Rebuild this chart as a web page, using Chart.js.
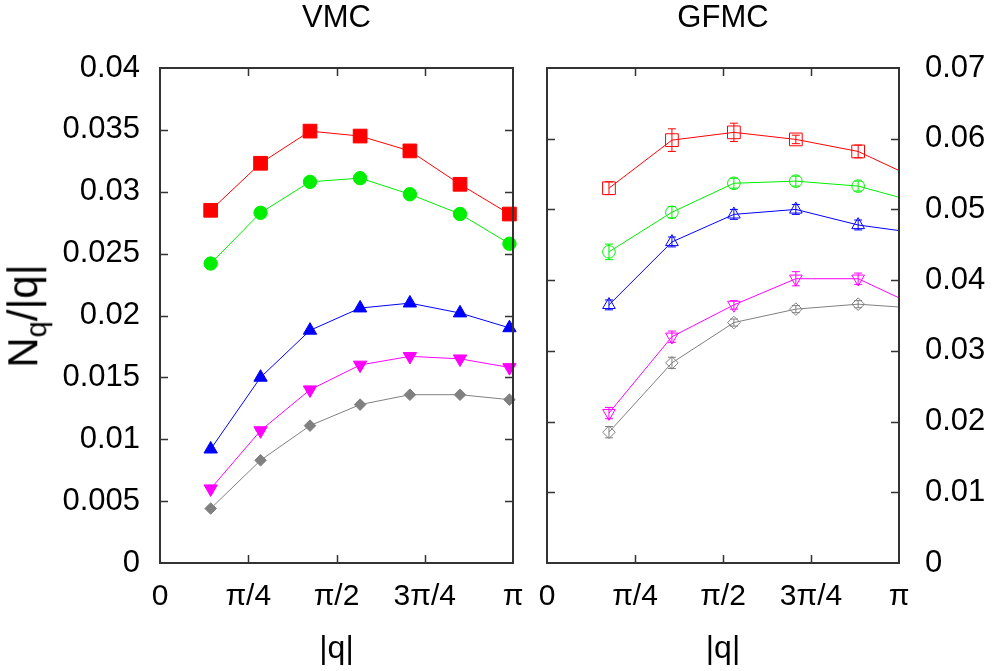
<!DOCTYPE html>
<html>
<head>
<meta charset="utf-8">
<script src="https://cdn.jsdelivr.net/npm/chart.js@4.4.1/dist/chart.umd.min.js"></script>
<style>
  body { margin: 0; background: #fff; }
  #wrap { position: relative; width: 995px; height: 671px; font-family: "Liberation Sans", Arial, sans-serif; }
  #vmc { position: absolute; left: 0; top: 0; }
  #gfmc { position: absolute; left: 530px; top: 0; }
  #ylab { position: absolute; left: 27px; top: 316px; transform: translate(-50%, -50%) rotate(-90deg);
          font-size: 42px; line-height: 1; white-space: nowrap; color: #000; }
  #ylab sub { font-size: 29px; }
</style>
</head>
<body>
<div id="wrap">
  <canvas id="vmc" width="530" height="671"></canvas>
  <canvas id="gfmc" width="465" height="671"></canvas>
  <div id="ylab">N<sub>q</sub>/|q|</div>
</div>
<script>
// |q| positions (radians) and N_q/|q| values
const qVmc = [0.451, 0.895, 1.335, 1.781, 2.224, 2.670, 3.110];
const vmcRed     = [0.0285, 0.0323, 0.0349, 0.0345, 0.0333, 0.0306, 0.0282];
const vmcGreen   = [0.0242, 0.0283, 0.0308, 0.0311, 0.0298, 0.0282, 0.0258];
const vmcBlue    = [0.0092, 0.0150, 0.0188, 0.0206, 0.0210, 0.0202, 0.0190];
const vmcMagenta = [0.0060, 0.0107, 0.0140, 0.0160, 0.0167, 0.0165, 0.0158];
const vmcGray    = [0.0044, 0.0083, 0.0111, 0.0128, 0.0136, 0.0136, 0.0132];

const qGfmc = [0.553, 1.115, 1.668, 2.221, 2.777, 3.330];
const gfmcRed     = [0.0530, 0.0598, 0.0609, 0.0599, 0.0582, 0.0541];
const gfmcGreen   = [0.0440, 0.0496, 0.0537, 0.0540, 0.0533, 0.0509];
const gfmcBlue    = [0.0365, 0.0454, 0.0493, 0.0500, 0.0478, 0.0466];
const gfmcMagenta = [0.0212, 0.0320, 0.0365, 0.0402, 0.0402, 0.0361];
const gfmcGray    = [0.0185, 0.0283, 0.0340, 0.0359, 0.0366, 0.0360];

// GFMC error bars
const errRed     = [0.0009, 0.0016, 0.0013, 0.0006, 0.0009, 0.0008];
const errGreen   = [0.0011, 0.0008, 0.0007, 0.0007, 0.0007, 0.0007];
const errBlue    = [0.0007, 0.0007, 0.0007, 0.0007, 0.0007, 0.0007];
const errMagenta = [0.0008, 0.0008, 0.0006, 0.0010, 0.0008, 0.0008];
const errGray    = [0.0008, 0.0008, 0.0005, 0.0005, 0.0005, 0.0005];

const xTickVals = [0, Math.PI / 4, Math.PI / 2, 3 * Math.PI / 4, Math.PI];
const xTickLabels = ['0', 'π/4', 'π/2', '3π/4', 'π'];

// styles
const colors = ['#ff0000', '#00ee00', '#0000ff', '#ff00ff', '#808080'];
const shapes = ['rect', 'circle', 'triangle', 'triangle', 'rectRot'];
const turns  = [0, 0, 0, 180, 0];
const sizesFilled = [9.7, 6.7, 7.7, 7.7, 5.8];
const sizesOpen   = [9, 6.3, 7.3, 7.3, 6.3];

Chart.defaults.font.family = '"Liberation Sans", Arial, sans-serif';
Chart.defaults.color = '#000';

const toPts = (xs, ys) => ys.map((v, i) => ({x: xs[i], y: v}));

// box around the plot with inward ticks on all four sides
const frameTicks = {
  id: 'frameTicks',
  afterDraw(chart) {
    const {ctx, chartArea: a, scales: {x, y}} = chart;
    const len = 8;
    ctx.save();
    ctx.strokeStyle = '#333';
    ctx.lineWidth = 1.5;
    ctx.beginPath();
    x.ticks.forEach(t => {
      if (t.value <= x.min || t.value >= x.max) return;
      const px = Math.round(x.getPixelForValue(t.value)) + 0.5;
      ctx.moveTo(px, a.bottom); ctx.lineTo(px, a.bottom - len);
      ctx.moveTo(px, a.top); ctx.lineTo(px, a.top + len);
    });
    y.ticks.forEach(t => {
      if (t.value <= y.min || t.value >= y.max) return;
      const py = Math.round(y.getPixelForValue(t.value)) + 0.5;
      ctx.moveTo(a.left, py); ctx.lineTo(a.left + len, py);
      ctx.moveTo(a.right, py); ctx.lineTo(a.right - len, py);
    });
    ctx.stroke();
    ctx.lineWidth = 2;
    ctx.strokeRect(a.left, a.top, a.right - a.left, a.bottom - a.top);
    ctx.restore();
  }
};

const errorBars = {
  id: 'errorBars',
  afterDatasetsDraw(chart) {
    const {ctx, chartArea: a, scales: {x, y}} = chart;
    ctx.save();
    ctx.beginPath();
    ctx.rect(a.left - 20, a.top - 20, a.right - a.left + 20, a.bottom - a.top + 40);
    ctx.clip();
    ctx.lineWidth = 1;
    chart.data.datasets.forEach(ds => {
      if (!ds.errors) return;
      ctx.strokeStyle = ds.borderColor;
      ds.data.forEach((p, i) => {
        const px = x.getPixelForValue(p.x);
        const lo = y.getPixelForValue(p.y - ds.errors[i]);
        const hi = y.getPixelForValue(p.y + ds.errors[i]);
        ctx.beginPath();
        ctx.moveTo(px, lo); ctx.lineTo(px, hi);
        ctx.moveTo(px - 4, lo); ctx.lineTo(px + 4, lo);
        ctx.moveTo(px - 4, hi); ctx.lineTo(px + 4, hi);
        ctx.stroke();
      });
    });
    ctx.restore();
  }
};

function makeSets(xs, series, errs, open) {
  return series.map((ys, k) => ({
    data: toPts(xs, ys),
    errors: errs ? errs[k] : null,
    borderColor: colors[k],
    borderWidth: 1,
    pointStyle: shapes[k],
    rotation: turns[k],
    pointRadius: open ? sizesOpen[k] : sizesFilled[k],
    pointBackgroundColor: open ? 'transparent' : colors[k],
    pointBorderColor: colors[k],
    pointBorderWidth: 1,
    fill: false,
    tension: 0,
    clip: open ? {left: 20, top: 20, right: 0, bottom: 20} : false
  }));
}

const noSidePad = s => { s.paddingLeft = 0; s.paddingRight = 0; };

function xAxis() {
  return {
    type: 'linear', min: 0, max: Math.PI,
    afterBuildTicks: s => { s.ticks = xTickVals.map(v => ({value: v})); },
    afterFit: s => { s.height = 108; noSidePad(s); },
    ticks: { callback: (v, i) => xTickLabels[i], font: {size: 30}, padding: 16, maxRotation: 0, autoSkip: false },
    grid: { display: false, drawTicks: false },
    border: { display: false },
    title: { display: true, text: '|q|', font: {size: 32}, padding: {top: 0, bottom: 3} }
  };
}

// panel title carried by an empty top axis so it centres over the plot area
function topAxis(text) {
  return {
    type: 'linear', position: 'top', min: 0, max: Math.PI,
    afterFit: s => { s.height = 68; noSidePad(s); },
    ticks: { display: false },
    grid: { display: false, drawTicks: false },
    border: { display: false },
    title: { display: true, text: text, font: {size: 31}, padding: {top: 0, bottom: 0} }
  };
}

new Chart(document.getElementById('vmc').getContext('2d'), {
  type: 'line',
  data: { datasets: makeSets(qVmc, [vmcRed, vmcGreen, vmcBlue, vmcMagenta, vmcGray], null, false) },
  options: {
    responsive: false, animation: false,
    layout: { padding: {left: 0, right: 17, top: 0, bottom: 0} },
    plugins: { legend: {display: false}, tooltip: {enabled: false} },
    scales: {
      x: xAxis(),
      x2: topAxis('VMC'),
      y: {
        min: 0, max: 0.04,
        afterFit: s => { s.width = 160; },
        ticks: { stepSize: 0.005, font: {size: 31}, padding: 20, callback: v => String(+v.toFixed(3)) },
        grid: { display: false, drawTicks: false },
        border: { display: false }
      }
    }
  },
  plugins: [frameTicks]
});

new Chart(document.getElementById('gfmc').getContext('2d'), {
  type: 'line',
  data: { datasets: makeSets(qGfmc, [gfmcRed, gfmcGreen, gfmcBlue, gfmcMagenta, gfmcGray],
                             [errRed, errGreen, errBlue, errMagenta, errGray], true) },
  options: {
    responsive: false, animation: false,
    layout: { padding: {left: 17, right: 0, top: 0, bottom: 0} },
    plugins: { legend: {display: false}, tooltip: {enabled: false} },
    scales: {
      x: xAxis(),
      x2: topAxis('GFMC'),
      y: {
        position: 'right',
        min: 0, max: 0.07,
        afterFit: s => { s.width = 96; },
        ticks: { stepSize: 0.01, font: {size: 31}, padding: 26, callback: v => String(+v.toFixed(2)) },
        grid: { display: false, drawTicks: false },
        border: { display: false }
      }
    }
  },
  plugins: [errorBars, frameTicks]
});
</script>
</body>
</html>
